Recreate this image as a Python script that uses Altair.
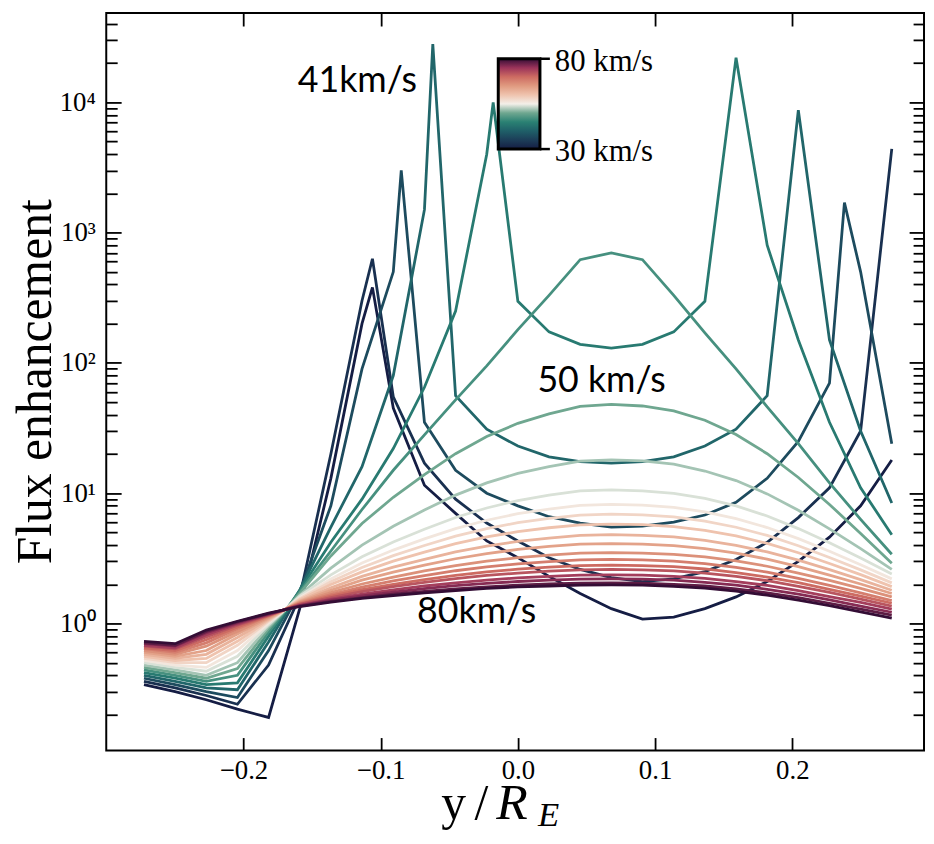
import altair as alt
import pandas as pd

# ---------------- data ----------------
x_grid = [-0.2725, -0.2498, -0.2271, -0.2044, -0.1817, -0.1590, -0.1363, -0.1136,
          -0.0908, -0.0681, -0.0454, -0.0227, 0.0, 0.0227, 0.0454, 0.0681, 0.0908,
          0.1136, 0.1363, 0.1590, 0.1817, 0.2044, 0.2271, 0.2498, 0.2725]

velocities = [30, 33, 37, 41, 44, 47, 50, 52, 54, 56, 58, 60, 62, 64, 66, 68, 70, 72, 74, 76, 78, 80]

flux_v30 = [0.34, 0.30, 0.26, 0.22, 0.19, 1.3, 13, 200, 45, 11.5, 7.0, 4.3, 3.2, 2.3, 1.7, 1.3, 1.08, 1.12, 1.3, 1.6, 2.1, 3.0, 4.6, 8.0, 18]
flux_v33 = [0.36, 0.32, 0.28, 0.24, 0.48, 1.6, 20, 300, 55, 17, 9.0, 5.9, 4.3, 3.2, 2.6, 2.25, 2.1, 2.2, 2.5, 3.1, 4.2, 6.5, 11, 30, 4400]
flux_v37 = [0.38, 0.34, 0.30, 0.27, 0.62, 1.75, 8, 90, 500, 35, 15, 10, 8.0, 6.6, 5.9, 5.5, 5.6, 6.0, 6.8, 8.5, 13, 25, 70, 500, 24]
flux_v41 = [0.40, 0.36, 0.32, 0.31, 0.72, 1.8, 5.5, 16, 80, 1500, 56, 31, 23, 19, 17.5, 17, 17.5, 19, 23, 31, 56, 8700, 150, 30, 8.4]
flux_v44 = [0.42, 0.38, 0.34, 0.35, 0.80, 1.8, 4.2, 9, 22, 65, 250, 4000, 297, 173, 139, 130, 139, 173, 297, 22000, 800, 150, 35, 11, 4.8]
flux_v47 = [0.44, 0.40, 0.36, 0.40, 0.86, 1.75, 3.6, 7.5, 15, 28, 52, 95, 180, 330, 620, 700, 620, 330, 170, 90, 46, 24, 12, 6.3, 3.4]
flux_v50 = [0.46, 0.42, 0.38, 0.45, 0.91, 1.7, 3.3, 5.85, 9.3, 13.9, 20.1, 27.2, 34.4, 40.6, 46.4, 48, 46.7, 42.9, 36.3, 28.2, 20.1, 13.2, 8.2, 4.9, 2.9]
flux_v52 = [0.48, 0.44, 0.40, 0.50, 0.95, 1.65, 2.66, 4.0, 5.58, 7.43, 9.67, 12.0, 14.2, 16.0, 17.6, 18, 17.7, 16.7, 14.8, 12.5, 9.88, 7.39, 5.32, 3.75, 2.6]
flux_v54 = [0.50, 0.46, 0.43, 0.56, 0.98, 1.62, 2.36, 3.25, 4.22, 5.29, 6.51, 7.70, 8.78, 9.65, 10.4, 10.6, 10.44, 9.99, 9.14, 7.99, 6.69, 5.35, 4.16, 3.18, 2.4]
flux_v56 = [0.52, 0.48, 0.46, 0.62, 1.01, 1.58, 2.20, 2.91, 3.66, 4.46, 5.35, 6.20, 6.96, 7.55, 8.06, 8.2, 8.09, 7.78, 7.19, 6.39, 5.45, 4.48, 3.58, 2.82, 2.2]
flux_v58 = [0.54, 0.50, 0.50, 0.68, 1.04, 1.55, 2.09, 2.69, 3.32, 3.97, 4.68, 5.35, 5.94, 6.40, 6.80, 6.9, 6.82, 6.57, 6.11, 5.48, 4.74, 3.95, 3.21, 2.58, 2.05]
flux_v60 = [0.56, 0.52, 0.54, 0.73, 1.06, 1.52, 1.99, 2.49, 3.01, 3.53, 4.10, 4.62, 5.07, 5.43, 5.72, 5.8, 5.74, 5.55, 5.19, 4.70, 4.12, 3.49, 2.89, 2.37, 1.92]
flux_v62 = [0.58, 0.54, 0.58, 0.78, 1.08, 1.49, 1.88, 2.30, 2.71, 3.11, 3.54, 3.93, 4.27, 4.53, 4.74, 4.8, 4.75, 4.62, 4.35, 3.98, 3.54, 3.06, 2.59, 2.17, 1.8]
flux_v64 = [0.60, 0.56, 0.62, 0.83, 1.10, 1.47, 1.80, 2.15, 2.48, 2.81, 3.14, 3.44, 3.70, 3.90, 4.06, 4.1, 4.06, 3.96, 3.75, 3.47, 3.12, 2.73, 2.35, 2.01, 1.7]
flux_v66 = [0.62, 0.58, 0.67, 0.87, 1.12, 1.45, 1.73, 2.01, 2.27, 2.53, 2.78, 3.01, 3.20, 3.35, 3.47, 3.5, 3.47, 3.39, 3.24, 3.02, 2.75, 2.44, 2.14, 1.86, 1.6]
flux_v68 = [0.64, 0.60, 0.71, 0.91, 1.14, 1.43, 1.67, 1.90, 2.12, 2.33, 2.54, 2.72, 2.87, 2.98, 3.08, 3.1, 3.08, 3.01, 2.88, 2.70, 2.48, 2.22, 1.96, 1.72, 1.5]
flux_v70 = [0.65, 0.62, 0.75, 0.94, 1.15, 1.41, 1.62, 1.82, 2.00, 2.17, 2.34, 2.49, 2.61, 2.71, 2.78, 2.8, 2.78, 2.73, 2.62, 2.46, 2.27, 2.06, 1.83, 1.62, 1.43]
flux_v72 = [0.67, 0.64, 0.79, 0.97, 1.16, 1.40, 1.58, 1.76, 1.92, 2.07, 2.21, 2.34, 2.44, 2.52, 2.58, 2.6, 2.58, 2.53, 2.44, 2.30, 2.13, 1.93, 1.73, 1.54, 1.36]
flux_v74 = [0.68, 0.65, 0.82, 0.99, 1.17, 1.38, 1.54, 1.68, 1.81, 1.94, 2.05, 2.15, 2.24, 2.30, 2.35, 2.36, 2.35, 2.30, 2.22, 2.10, 1.96, 1.79, 1.61, 1.45, 1.29]
flux_v76 = [0.70, 0.67, 0.85, 1.01, 1.18, 1.37, 1.51, 1.63, 1.74, 1.85, 1.95, 2.03, 2.10, 2.15, 2.19, 2.2, 2.19, 2.15, 2.07, 1.97, 1.83, 1.68, 1.52, 1.36, 1.22]
flux_v78 = [0.71, 0.68, 0.87, 1.03, 1.19, 1.36, 1.48, 1.58, 1.68, 1.76, 1.84, 1.91, 1.97, 2.01, 2.04, 2.05, 2.04, 2.00, 1.94, 1.84, 1.72, 1.58, 1.43, 1.29, 1.16]
flux_v80 = [0.73, 0.70, 0.89, 1.04, 1.20, 1.35, 1.46, 1.56, 1.64, 1.72, 1.79, 1.86, 1.91, 1.94, 1.97, 1.98, 1.97, 1.93, 1.87, 1.77, 1.65, 1.51, 1.37, 1.23, 1.1]

curve_values = [flux_v30, flux_v33, flux_v37, flux_v41, flux_v44, flux_v47, flux_v50,
                flux_v52, flux_v54, flux_v56, flux_v58, flux_v60, flux_v62, flux_v64,
                flux_v66, flux_v68, flux_v70, flux_v72, flux_v74, flux_v76, flux_v78, flux_v80]

# resonance peaks that fall between grid points
peak_v = [30, 33, 37, 37, 41, 44]
peak_x = [-0.106, -0.106, -0.085, 0.238, -0.062, -0.018]
peak_y = [380, 630, 3000, 1700, 28000, 10000]

x_ticks = [-0.2, -0.1, 0.0, 0.1, 0.2]
y_ticks = [1, 10, 100, 1000, 10000]
y_minor_ticks = [0.2, 0.3, 0.4, 0.5, 0.6, 0.7, 0.8, 0.9,
                 2, 3, 4, 5, 6, 7, 8, 9,
                 20, 30, 40, 50, 60, 70, 80, 90,
                 200, 300, 400, 500, 600, 700, 800, 900,
                 2000, 3000, 4000, 5000, 6000, 7000, 8000, 9000,
                 20000, 30000, 40000]

annot_text = ["41km/s", "50 km/s", "80km/s"]
annot_x = [-0.117, 0.061, -0.030]
annot_y = [14600, 72, 1.23]

colorbar_stops = [30, 35, 40, 45, 50, 55, 60, 65, 70, 75, 80]
colorbar_colors = ["#151d44", "#1c3d58", "#1f5f68", "#2a8173", "#6fa790", "#f3efe9",
                   "#efc3ae", "#e09a80", "#cd6b62", "#9a335a", "#340d35"]
colorbar_labels = ["80 km/s", "30 km/s"]

# ---------------- build table ----------------
records = []
for v, ys in zip(velocities, curve_values):
    for xv, yv in zip(x_grid, ys):
        records.append({"x": xv, "flux": yv, "v": v})
for v, xv, yv in zip(peak_v, peak_x, peak_y):
    records.append({"x": xv, "flux": yv, "v": v})
df = pd.DataFrame(records).sort_values(["v", "x"]).reset_index(drop=True)
ann = pd.DataFrame({"label": annot_text, "x": annot_x, "flux": annot_y})
dummy = pd.DataFrame({"x": [0.0], "flux": [1.0]})

SERIF = "Liberation Serif"

x_scale = alt.Scale(domain=[-0.3, 0.296], nice=False, zero=False)
y_scale = alt.Scale(type="log", domain=[0.106, 48400], nice=False)
c_scale = alt.Scale(domain=colorbar_stops, range=colorbar_colors, interpolate="rgb")

label_expr = ("'10' + (datum.value < 5 ? '⁰' : datum.value < 50 ? '¹' : "
              "datum.value < 500 ? '²' : datum.value < 5000 ? '³' : '⁴')")

CB_X, CB_TOP, CB_LEN, CB_W = 395, 46, 91, 42

lines = alt.Chart(df).mark_line(strokeWidth=2.8, clip=True).encode(
    x=alt.X("x:Q", scale=x_scale,
            axis=alt.Axis(values=x_ticks, format=".1f", orient="bottom", ticks=False, tickSize=0,
                          domain=False, grid=False, labelPadding=7, labelFont=SERIF,
                          labelFontSize=27, labelColor="black", title=None)),
    y=alt.Y("flux:Q", scale=y_scale,
            axis=alt.Axis(values=y_ticks, orient="left", labelExpr=label_expr, ticks=False,
                          tickSize=0, domain=False, grid=False, labelPadding=11,
                          labelFont=SERIF, labelFontSize=27, labelColor="black",
                          title="Flux enhancement", titleFont=SERIF, titleFontSize=50,
                          titleFontWeight="normal", titleColor="black", titleAngle=270,
                          titleX=-71, titleY=371, titleAlign="center", titleBaseline="middle")),
    color=alt.Color("v:Q", scale=c_scale,
                    legend=alt.Legend(orient="none", legendX=CB_X, legendY=CB_TOP,
                                      direction="vertical",
                                      gradientLength=CB_LEN, gradientThickness=CB_W,
                                      gradientStrokeColor="black", gradientStrokeWidth=3,
                                      title=None, values=[30, 80], labelOpacity=0,
                                      labelFontSize=8, labelOverlap=False)),
    detail="v:N",
)


def tick_axis(orient, values, size):
    return alt.Axis(orient=orient, values=values, tickSize=size, offset=-size, labels=False,
                    domain=False, grid=False, title=None, tickColor="black", tickWidth=1.8)


def tick_layer(x_axis, y_axis):
    return alt.Chart(dummy).mark_point(opacity=0).encode(
        x=alt.X("x:Q", scale=x_scale, axis=x_axis),
        y=alt.Y("flux:Q", scale=y_scale, axis=y_axis),
    )


ticks_major = tick_layer(tick_axis("bottom", x_ticks, 13), tick_axis("left", y_ticks, 15))
ticks_minor = tick_layer(None, tick_axis("left", y_minor_ticks, 11))
ticks_right = tick_layer(tick_axis("top", x_ticks, 13), tick_axis("right", y_ticks, 15))
ticks_right_minor = tick_layer(None, tick_axis("right", y_minor_ticks, 11))

annotations = alt.Chart(ann).mark_text(font="Lato", fontSize=36, color="black").encode(
    x=alt.X("x:Q", scale=x_scale, axis=None),
    y=alt.Y("flux:Q", scale=y_scale, axis=None),
    text="label:N",
)

# colour-bar end ticks and labels (placed beside the gradient legend)
cb_end_scale = alt.Scale(type="point", domain=colorbar_labels,
                         range=[CB_TOP, CB_TOP + CB_LEN], padding=0)
cbar_ticks = alt.Chart(pd.DataFrame({"end": colorbar_labels})).mark_rule(
    color="black", strokeWidth=2.5).encode(
    x=alt.value(CB_X + CB_W), x2=alt.value(CB_X + CB_W + 10),
    y=alt.Y("end:N", scale=cb_end_scale, axis=None),
)
cbar_labels = alt.Chart(pd.DataFrame({"end": colorbar_labels})).mark_text(
    font=SERIF, fontSize=31, align="left", baseline="middle", color="black", dy=3).encode(
    x=alt.value(CB_X + CB_W + 15),
    y=alt.Y("end:N", scale=cb_end_scale, axis=None),
    text="end:N",
)


def title_piece(txt, px, py, size, style, align):
    return alt.Chart(pd.DataFrame({"t": [txt]})).mark_text(
        font=SERIF, fontSize=size, fontStyle=style, align=align, baseline="alphabetic",
        color="black").encode(x=alt.value(px), y=alt.value(py), text="t:N")


t_y = title_piece("y", 350, 812, 50, "normal", "center")
t_sl = title_piece("/", 378, 812, 50, "normal", "center")
t_R = title_piece("R", 393, 812, 52, "italic", "left")
t_E = title_piece("E", 435, 819, 35, "italic", "left")

chart = alt.layer(
    lines, ticks_major, ticks_minor, ticks_right, ticks_right_minor, annotations,
    cbar_ticks, cbar_labels, t_y, t_sl, t_R, t_E
).resolve_scale(x="shared", y="independent").resolve_axis(
    x="independent", y="independent"
).properties(
    width=824, height=743,
    padding={"left": 99, "top": 2, "right": 2, "bottom": 80},
    autosize=alt.AutoSizeParams(type="none"),
).configure_view(stroke="black", strokeWidth=2)

chart.save("out.html", embed_options={"renderer": "svg", "actions": False})
